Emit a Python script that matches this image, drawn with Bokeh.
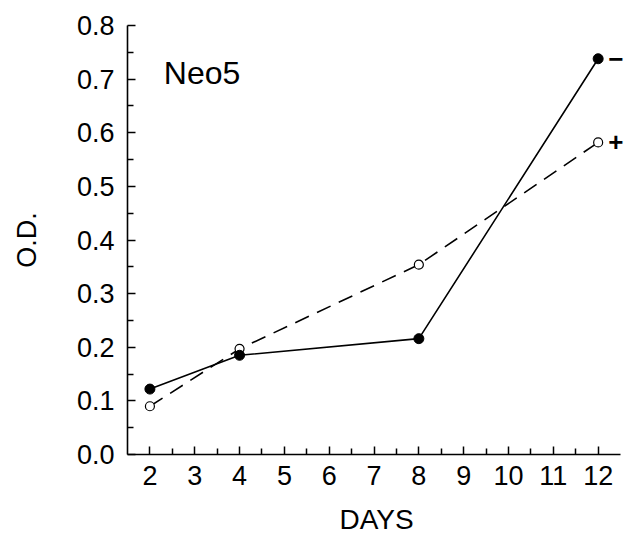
from bokeh.plotting import figure
from bokeh.models import Range1d, FixedTicker, CustomJSTickFormatter
from bokeh.core.properties import value
from bokeh.embed import file_html
from bokeh.resources import INLINE

days = [2, 4, 8, 12]
od_minus = [0.122, 0.185, 0.216, 0.738]
od_plus = [0.090, 0.197, 0.354, 0.582]
x_ticks = [2, 3, 4, 5, 6, 7, 8, 9, 10, 11, 12]
y_ticks = [0.0, 0.1, 0.2, 0.3, 0.4, 0.5, 0.6, 0.7, 0.8]
series_labels = ["\u2212", "+"]
title_text = "Neo5"

FONT = "Liberation Sans"

p = figure(width=625, height=541, output_backend="svg", toolbar_location=None,
           x_range=Range1d(1.5, 12.61), y_range=Range1d(0, 0.8),
           min_border_left=127, min_border_right=0, min_border_top=25, min_border_bottom=87)
p.outline_line_color = None
p.xgrid.visible = False
p.ygrid.visible = False
p.background_fill_color = "white"

xa = p.xaxis[0]
xa.bounds = (1.5, 12.5)
xa.ticker = FixedTicker(ticks=x_ticks, minor_ticks=[t + 0.5 for t in x_ticks[:-1]])
ya = p.yaxis[0]
ya.ticker = FixedTicker(ticks=y_ticks, minor_ticks=[round(t + 0.05, 2) for t in y_ticks[:-1]])
ya.formatter = CustomJSTickFormatter(code="return tick.toFixed(1);")

for ax in (xa, ya):
    ax.axis_line_width = 1.6
    ax.axis_line_color = "black"
    ax.major_tick_in = 8
    ax.major_tick_out = 0
    ax.minor_tick_in = 6
    ax.minor_tick_out = 0
    ax.major_tick_line_width = 1.5
    ax.minor_tick_line_width = 1.5
    ax.major_label_text_font = FONT
    ax.major_label_text_font_size = "27px"
    ax.major_label_text_color = "black"
    ax.axis_label_text_font = FONT
    ax.axis_label_text_font_style = "normal"
    ax.axis_label_text_color = "black"

xa.axis_label = "DAYS"
xa.axis_label_text_font_size = "28px"
xa.major_label_standoff = 11
xa.axis_label_standoff = 16
ya.axis_label = "O.D."
ya.axis_label_text_font_size = "27px"
ya.major_label_standoff = 13
ya.axis_label_standoff = 32

# dashed (+) series with open circles
p.line(days, od_plus, line_color="black", line_width=1.6, line_dash="15 9")
p.scatter(days, od_plus, marker="circle", size=9, fill_color="white",
          line_color="black", line_width=1.2)
# solid (-) series with filled circles
p.line(days, od_minus, line_color="black", line_width=1.6)
p.scatter(days, od_minus, marker="circle", size=10, fill_color="black",
          line_color="black")

p.text(x=[days[-1], days[-1]], y=[od_minus[-1], od_plus[-1]], text=series_labels,
       x_offset=10, text_align="left", text_baseline="middle",
       text_font=value(FONT), text_font_size="26px", text_font_style="bold",
       text_color="black")

p.text(x=[2.31], y=[0.711], text=[title_text], text_align="left",
       text_baseline="alphabetic", text_font=value(FONT), text_font_size="32px",
       text_color="black")

open("out.html", "w").write(file_html(p, INLINE))
